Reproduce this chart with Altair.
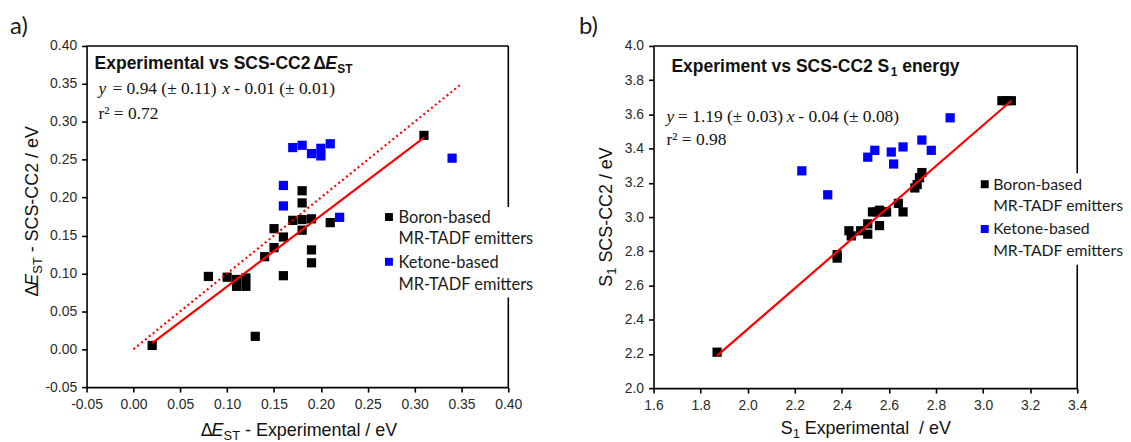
import altair as alt
import pandas as pd

# ---------------- data ----------------
# Panel a) : Delta E_ST experimental vs SCS-CC2
a_boron_x = [0.02, 0.08, 0.10, 0.11, 0.11, 0.12, 0.12, 0.13, 0.14, 0.15, 0.15, 0.16,
             0.16, 0.17, 0.18, 0.18, 0.18, 0.18, 0.19, 0.19, 0.19, 0.21, 0.31]
a_boron_y = [0.005, 0.096, 0.095, 0.092, 0.083, 0.094, 0.083, 0.017, 0.122, 0.159, 0.134, 0.148,
             0.097, 0.170, 0.209, 0.193, 0.171, 0.157, 0.172, 0.131, 0.114, 0.167, 0.282]
a_ketone_x = [0.16, 0.16, 0.17, 0.18, 0.19, 0.20, 0.20, 0.21, 0.22, 0.34]
a_ketone_y = [0.216, 0.189, 0.266, 0.269, 0.258, 0.265, 0.255, 0.271, 0.174, 0.252]
a_fit_x = [0.02, 0.31]
a_fit_y = [0.008, 0.279]
a_ident_x = [0.0, 0.35]
a_ident_y = [0.0, 0.35]
a_ticks = [-0.05, 0.0, 0.05, 0.10, 0.15, 0.20, 0.25, 0.30, 0.35, 0.40]

# Panel b) : S1 experimental vs SCS-CC2
b_boron_x = [1.87, 2.38, 2.38, 2.43, 2.44, 2.48, 2.51, 2.51, 2.53, 2.55, 2.56, 2.56,
             2.58, 2.59, 2.64, 2.66, 2.71, 2.72, 2.73, 2.74, 3.08, 3.10, 3.12]
b_boron_y = [2.21, 2.78, 2.76, 2.92, 2.89, 2.92, 2.96, 2.90, 3.03, 3.03, 3.04, 2.95,
             3.03, 3.03, 3.08, 3.03, 3.17, 3.19, 3.23, 3.26, 3.68, 3.68, 3.68]
b_ketone_x = [2.23, 2.34, 2.51, 2.54, 2.61, 2.62, 2.66, 2.74, 2.78, 2.86]
b_ketone_y = [3.27, 3.13, 3.35, 3.39, 3.38, 3.31, 3.41, 3.45, 3.39, 3.58]
b_fit_x = [1.87, 3.12]
b_fit_y = [2.19, 3.68]
b_xticks = [1.6, 1.8, 2.0, 2.2, 2.4, 2.6, 2.8, 3.0, 3.2, 3.4]
b_yticks = [2.0, 2.2, 2.4, 2.6, 2.8, 3.0, 3.2, 3.4, 3.6, 3.8, 4.0]

groups = ["Boron-based MR-TADF emitters", "Ketone-based MR-TADF emitters"]
colors = ["#000000", "#0000ff"]

# ---------------- helpers ----------------
ONE = pd.DataFrame({"k": [0]})
SANS = "Liberation Sans"
SERIF = "Liberation Serif"
LEG = "Lato"
TS = 17.6   # inner title size
ES = 17.5   # equation size
LS = 16.5   # legend size (panel a)
LS2 = 15.9  # legend size (panel b, must fit the window)


def txt(s, x, y, size=18, font=SANS, weight="normal", style="normal", angle=0,
        color="#111111"):
    kw = dict(font=font, fontSize=size, fontWeight=weight, fontStyle=style,
              color=color, align="left", baseline="alphabetic")
    if angle:
        kw["angle"] = angle
    return alt.Chart(ONE).mark_text(**kw).encode(
        x=alt.value(x), y=alt.value(y), text=alt.value(s))


def rule(x, y, x2=None, y2=None):
    enc = dict(x=alt.value(x), y=alt.value(y))
    if x2 is not None:
        enc["x2"] = alt.value(x2)
    if y2 is not None:
        enc["y2"] = alt.value(y2)
    return alt.Chart(ONE).mark_rule(color="black", strokeWidth=1.6).encode(**enc)


def box(x, x2, y, y2, color="white", opacity=1.0):
    return alt.Chart(ONE).mark_rect(color=color, opacity=opacity).encode(
        x=alt.value(x), x2=alt.value(x2), y=alt.value(y), y2=alt.value(y2))


def square(x, y, color):
    return alt.Chart(ONE).mark_point(shape="square", filled=True, size=64,
                                     color=color, opacity=1).encode(
        x=alt.value(x), y=alt.value(y))


def points_df(bx, by, kx, ky):
    return pd.DataFrame({
        "x": bx + kx,
        "y": by + ky,
        "g": [groups[0]] * len(bx) + [groups[1]] * len(kx),
    })


def panel(W, H, xdom, ydom, xvals, yvals, fmt, pts, lines, extra):
    neg = "datum.value < 0 ? '-' + format(-datum.value, '%s') : format(datum.value, '%s')" % (fmt, fmt)
    xe = alt.X("x:Q", scale=alt.Scale(domain=xdom, nice=False, zero=False),
               axis=alt.Axis(values=xvals, labelExpr=neg, title=None))
    ye = alt.Y("y:Q", scale=alt.Scale(domain=ydom, nice=False, zero=False),
               axis=alt.Axis(values=yvals, labelExpr=neg, title=None))
    scat = alt.Chart(pts).mark_point(shape="square", filled=True, size=86, opacity=1).encode(
        x=xe, y=ye,
        color=alt.Color("g:N", scale=alt.Scale(domain=groups, range=colors), legend=None))
    layers = [rule(0, 0, x2=W), rule(W, 0, y2=H), scat]
    for df, dash, sw in lines:
        kw = dict(color="#ff0000", strokeWidth=sw)
        if dash:
            kw["strokeDash"] = dash
        layers.append(alt.Chart(df).mark_line(**kw).encode(x=xe, y=ye, order="x:Q"))
    layers += extra
    return alt.layer(*layers).properties(width=W, height=H)


# ---------------- panel a ----------------
W1, H1 = 424, 343
pa = points_df(a_boron_x, a_boron_y, a_ketone_x, a_ketone_y)
a_lines = [
    (pd.DataFrame({"x": a_ident_x, "y": a_ident_y}), [2, 3], 2.2),
    (pd.DataFrame({"x": a_fit_x, "y": a_fit_y}), None, 2.2),
]
a_extra = [
    box(-79, -78, -37, -36, opacity=0),
    box(296, 460, 162, 253),
    square(304, 172, colors[0]),
    square(304, 217, colors[1]),
    txt("Boron-based", 313.5, 178, size=LS, font=LEG, color="#1a1a1a"),
    txt("MR-TADF emitters", 313.5, 199, size=LS, font=LEG, color="#1a1a1a"),
    txt("Ketone-based", 313.5, 223, size=LS, font=LEG, color="#1a1a1a"),
    txt("MR-TADF emitters", 313.5, 245, size=LS, font=LEG, color="#1a1a1a"),
    txt("a)", -77, -12, size=24, font=LEG, color="#1a1a1a"),
    # title
    txt("Experimental vs SCS-CC2", 8, 23, size=TS, weight="bold"),
    txt("\u0394", 228, 23, size=TS, weight="bold"),
    txt("E", 240, 23, size=TS, weight="bold", style="italic"),
    txt("ST", 252, 27, size=12, weight="bold"),
    # equation
    txt("y", 12, 48, size=ES, font=SERIF, style="italic"),
    txt("= 0.94 (\u00b1 0.11)", 26, 48, size=ES, font=SERIF),
    txt("x", 136.5, 48, size=ES, font=SERIF, style="italic"),
    txt("- 0.01 (\u00b1 0.01)", 148.5, 48, size=ES, font=SERIF),
    txt("r\u00b2 = 0.72", 12, 73, size=ES, font=SERIF),
    # y title (rotated)
    txt("\u0394", -49, 252, angle=270),
    txt("E", -49, 241, style="italic", angle=270),
    txt("ST", -45, 229, size=13, angle=270),
    txt("- SCS-CC2 / eV", -49, 207.5, angle=270),
    # x title
    txt("\u0394", 114.7, 392.5),
    txt("E", 125.7, 392.5, style="italic"),
    txt("ST", 137.7, 396, size=13),
    txt("- Experimental / eV", 159.3, 392.5),
]
left = panel(W1, H1, [-0.05, 0.40], [-0.05, 0.40], a_ticks, a_ticks, ".2f",
             pa, a_lines, a_extra)

# ---------------- panel b ----------------
W2, H2 = 426, 344
pb = points_df(b_boron_x, b_boron_y, b_ketone_x, b_ketone_y)
b_lines = [(pd.DataFrame({"x": b_fit_x, "y": b_fit_y}), None, 2.2)]
b_extra = [
    box(-75, -74, -37, -36, opacity=0),
    box(325, 460, 128, 220),
    square(333, 139, colors[0]),
    square(333, 184, colors[1]),
    txt("Boron-based", 341.5, 144.5, size=LS2, font=LEG, color="#1a1a1a"),
    txt("MR-TADF emitters", 341.5, 166, size=LS2, font=LEG, color="#1a1a1a"),
    txt("Ketone-based", 341.5, 189, size=LS2, font=LEG, color="#1a1a1a"),
    txt("MR-TADF emitters", 341.5, 211.5, size=LS2, font=LEG, color="#1a1a1a"),
    txt("b)", -75, -12, size=24, font=LEG, color="#1a1a1a"),
    # title
    txt("Experiment vs SCS-CC2 S", 18, 26, size=TS, weight="bold"),
    txt("1", 238.5, 30, size=12, weight="bold"),
    txt("energy", 250, 26, size=TS, weight="bold"),
    # equation
    txt("y", 13, 76.5, size=ES, font=SERIF, style="italic"),
    txt("= 1.19 (\u00b1 0.03)", 24.7, 76.5, size=ES, font=SERIF),
    txt("x", 134, 76.5, size=ES, font=SERIF, style="italic"),
    txt("- 0.04 (\u00b1 0.08)", 145.5, 76.5, size=ES, font=SERIF),
    txt("r\u00b2 = 0.98", 13, 100, size=ES, font=SERIF),
    # y title
    txt("S", -42, 242, angle=270),
    txt("1", -38, 230, size=13, angle=270),
    txt("SCS-CC2 / eV", -42, 217.8, angle=270),
    # x title
    txt("S", 128, 390.5),
    txt("1", 140, 394.5, size=13),
    txt("Experimental\u00a0 / eV", 152, 390.5),
]
right = panel(W2, H2, [1.6, 3.4], [2.0, 4.0], b_xticks, b_yticks, ".1f",
              pb, b_lines, b_extra)

chart = alt.hconcat(left, right, spacing=35).properties(
    padding={"left": 0, "top": 0, "right": -1, "bottom": 0},
    background="white",
).configure_view(stroke=None).configure_axis(
    domainColor="black", domainWidth=1.6, tickColor="black", tickWidth=1.6,
    tickSize=5, labelFont=SANS, labelFontSize=14, labelColor="#2a2a2a",
    labelPadding=5, labelFlush=False, grid=False,
)

chart.save("out.html", embed_options={"renderer": "svg", "actions": False})
